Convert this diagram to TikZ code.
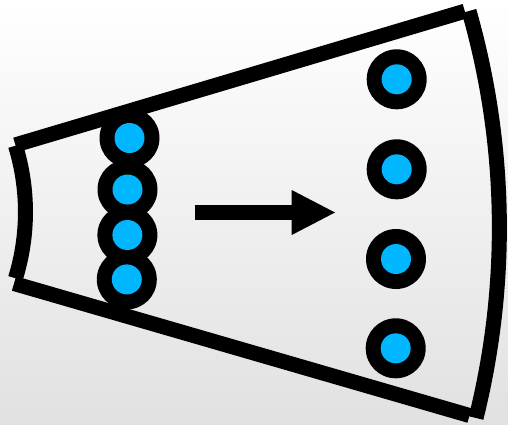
\documentclass[tikz,border=0pt]{standalone}
\usetikzlibrary{calc}
\definecolor{dotblue}{RGB}{0,182,255}
\definecolor{bgbottom}{RGB}{225,225,225}
\begin{document}
\begin{tikzpicture}[x=1pt,y=1pt,
  edge/.style={line width=15pt,black},
  ring/.style={circle,fill=black,minimum size=60pt,inner sep=0pt},
  dot/.style={circle,fill=dotblue,minimum size=30pt,inner sep=0pt}]
\useasboundingbox (0,0) rectangle (508,-424);
\shade[top color=white,bottom color=bgbottom] (0,0) rectangle (508,-424);
% sector outline
\coordinate (tl) at (15.4,-144.9);
\coordinate (tr) at (464.8,-11.2);
\coordinate (bl) at (14,-283.5);
\coordinate (br) at (469.5,-415.5);
\coordinate (la) at (15.5,-145.7);
\coordinate (ra) at (469,-11);
\draw[edge] (tl) -- (tr);
\draw[edge] (bl) -- (br);
\draw[edge] (la) arc[start angle=17.1,end angle=-17.1,radius=225.4];
\draw[edge] (ra) arc[start angle=15.96,end angle=-13.99,radius=787.7];
% left stacked rings
\foreach \n/\x/\y in {l1/129.5/138, l2/127.5/189.5, l3/127.4/235, l4/126.8/279.4,
                      r1/396.7/79.3, r2/396.7/169.3, r3/396/259, r4/395.7/348.3}
  \node[ring] (\n) at (\x,-\y) {};
\foreach \n in {l1,l2,l3,l4,r1,r2,r3,r4}
  \node[dot] (d\n) at (\n.center) {};
% arrow
\coordinate (as) at (195,-212.5);
\coordinate (ab) at (292,-212.5);
\coordinate (at) at (335,-212.5);
\draw[line width=15pt] (as) -- (ab);
\fill (291.7,-190) -- (at) -- (291.7,-235) -- cycle;
\end{tikzpicture}
\end{document}
